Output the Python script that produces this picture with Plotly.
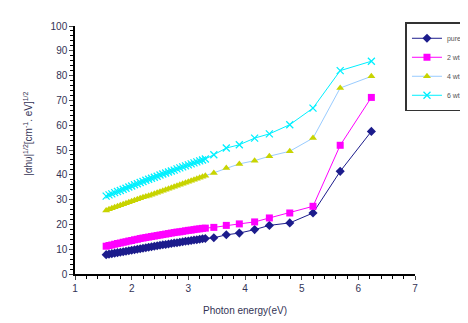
import plotly.graph_objects as go

dense_x = [1.55, 1.60, 1.65, 1.70, 1.75, 1.80, 1.85, 1.90, 1.95, 2.00, 2.05, 2.10,
           2.15, 2.20, 2.25, 2.30, 2.35, 2.40, 2.45, 2.50, 2.55, 2.60, 2.65, 2.70,
           2.75, 2.80, 2.85, 2.90, 2.95, 3.00, 3.05, 3.10, 3.15, 3.20, 3.25, 3.30]
sparse_x = [3.45, 3.67, 3.90, 4.17, 4.43, 4.79, 5.20, 5.68, 6.23]
energy = dense_x + sparse_x

pure = [7.8, 8.0, 8.2, 8.4, 8.6, 8.8, 9.0, 9.2, 9.4, 9.6, 9.8, 10.0,
        10.2, 10.4, 10.6, 10.8, 11.0, 11.2, 11.4, 11.6, 11.8, 11.9, 12.1, 12.3,
        12.5, 12.6, 12.8, 13.0, 13.2, 13.3, 13.5, 13.7, 13.8, 14.0, 14.2, 14.3,
        14.6, 15.8, 16.5, 17.9, 19.6, 20.6, 24.6, 41.4, 57.5]
wt2 = [11.2, 11.5, 11.7, 12.0, 12.3, 12.5, 12.8, 13.0, 13.3, 13.5, 13.8, 14.0,
       14.3, 14.5, 14.7, 14.9, 15.1, 15.3, 15.5, 15.7, 15.9, 16.1, 16.3, 16.5,
       16.7, 16.9, 17.0, 17.2, 17.4, 17.6, 17.7, 17.9, 18.1, 18.2, 18.4, 18.5,
       18.8, 19.6, 20.2, 21.0, 22.6, 24.6, 27.3, 51.9, 71.2]
wt4 = [25.6, 26.1, 26.5, 26.9, 27.3, 27.7, 28.1, 28.5, 28.9, 29.3, 29.7, 30.1,
       30.5, 30.9, 31.3, 31.6, 32.0, 32.4, 32.8, 33.2, 33.6, 34.0, 34.4, 34.8,
       35.2, 35.6, 36.0, 36.4, 36.8, 37.2, 37.6, 38.0, 38.4, 38.8, 39.2, 39.6,
       40.7, 42.7, 44.4, 45.7, 47.5, 49.5, 54.8, 75.0, 79.7]
wt6 = [31.4, 31.9, 32.3, 32.8, 33.3, 33.7, 34.2, 34.6, 35.1, 35.5, 36.0, 36.4,
       36.9, 37.3, 37.8, 38.2, 38.6, 39.0, 39.4, 39.9, 40.3, 40.7, 41.1, 41.5,
       41.9, 42.4, 42.8, 43.2, 43.6, 44.0, 44.4, 44.8, 45.2, 45.6, 46.0, 46.4,
       48.1, 50.8, 52.1, 54.8, 56.5, 60.2, 66.9, 82.0, 85.8]

names = ["pure", "2 wt.%", "4 wt.%", "6 wt.%"]
x_ticks = [1, 2, 3, 4, 5, 6, 7]
y_ticks = [0, 10, 20, 30, 40, 50, 60, 70, 80, 90, 100]

fig = go.Figure()
fig.add_trace(go.Scatter(x=energy, y=pure, name=names[0], mode="lines+markers",
                         line=dict(color="#1c1c8c", width=1),
                         marker=dict(symbol="diamond", size=7, color="#1c1c8c")))
fig.add_trace(go.Scatter(x=energy, y=wt2, name=names[1], mode="lines+markers",
                         line=dict(color="#ff00ff", width=1),
                         marker=dict(symbol="square", size=7, color="#ff00ff")))
fig.add_trace(go.Scatter(x=energy, y=wt4, name=names[2], mode="lines+markers",
                         line=dict(color="#99ccff", width=1),
                         marker=dict(symbol="triangle-up", size=7, color="#c8d400")))
fig.add_trace(go.Scatter(x=energy, y=wt6, name=names[3], mode="lines+markers",
                         line=dict(color="#00f0ff", width=1),
                         marker=dict(symbol="x-thin", size=7, color="#00f0ff",
                                     line=dict(color="#00f0ff", width=1.3))))

fig.update_layout(
    width=468, height=323,
    margin=dict(l=67, r=61, t=18, b=57, autoexpand=False),
    paper_bgcolor="white", plot_bgcolor="white",
    font=dict(family="Liberation Sans, Arial", size=10, color="#333355"),
    showlegend=True,
    legend=dict(x=0.972, y=1.015, xanchor="left", yanchor="top",
                bgcolor="white", bordercolor="#333333", borderwidth=1.5,
                font=dict(size=7, color="#555555"), tracegroupgap=0,
                itemwidth=30),
    xaxis=dict(range=[1, 7], tickvals=x_ticks, ticks="outside", ticklen=4,
               showline=True, linecolor="black", linewidth=1.5, showgrid=False,
               zeroline=False, tickfont=dict(size=10),
               minor=dict(dtick=0.2, ticks="outside", ticklen=3, tickcolor="black"),
               title=dict(text="Photon energy(eV)", font=dict(size=10), standoff=14)),
    yaxis=dict(range=[0, 100], tickvals=y_ticks, ticks="outside", ticklen=4,
               showline=True, linecolor="black", linewidth=1.5, showgrid=False,
               zeroline=False, tickfont=dict(size=10),
               minor=dict(dtick=2, ticks="outside", ticklen=3, tickcolor="black")),
    annotations=[dict(text="|αhυ|<sup>1/2</sup>[cm<sup>-1</sup>. eV]<sup>1/2</sup>",
                      xref="paper", yref="paper", x=-0.138, y=0.565,
                      textangle=-90, showarrow=False, font=dict(size=10),
                      xanchor="center", yanchor="middle")],
)

fig.write_html("out.html")
